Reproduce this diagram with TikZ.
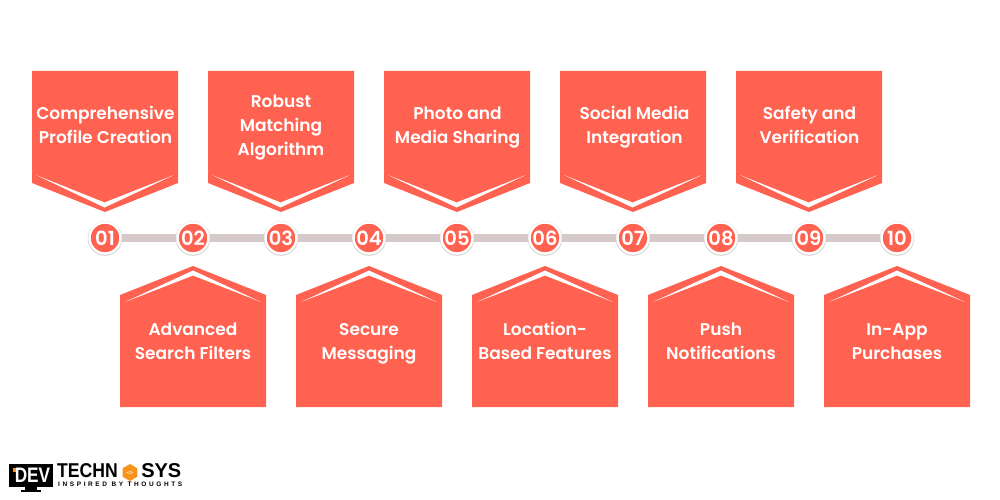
\documentclass[tikz,border=0pt]{standalone}
\usepackage{fontspec}
\setmainfont{Poppins}[UprightFont=* Medium,BoldFont=* SemiBold]
\newfontfamily\logofont{Liberation Sans}[BoldFont=* Bold]
\usetikzlibrary{backgrounds,shapes.geometric}
\definecolor{coral}{HTML}{FF6250}
\definecolor{barc}{HTML}{D5C9C9}
\definecolor{hexc}{HTML}{F7941D}
\tikzset{x=1pt,y=-1pt,
  panel/.style={fill=coral,draw=none},
  chev/.style={fill=white,draw=none},
  label/.style={text=white,align=center,font=\fontsize{17}{24}\selectfont\bfseries,inner sep=0pt},
  num/.style={circle,fill=coral,draw=white,line width=2.4pt,minimum size=31pt,inner sep=0pt,text=white,font=\fontsize{19.5}{19.5}\selectfont\bfseries},
  halo/.style={circle,fill=black!18,draw=none,minimum size=34.5pt,inner sep=0pt},
  bar/.style={draw=barc,line width=8pt}}
\newcommand{\downpanel}[1]{% left x
  \fill[panel] (#1,71) -- ++(146,0) -- ++(0,112) -- ++(-73,29) -- ++(-73,-29) -- cycle;
  \fill[chev] (#1+4,175) -- (#1+72.5,202.5) -- (#1+142,175) -- (#1+72.5,207.5) -- cycle;
}
\newcommand{\uppanel}[1]{%
  \fill[panel] (#1,407) -- ++(146,0) -- ++(0,-112) -- ++(-73,-29) -- ++(-73,29) -- cycle;
  \fill[chev] (#1+5,302) -- (#1+73,270.5) -- (#1+141,302) -- (#1+73,275.5) -- cycle;
}
\begin{document}
\begin{tikzpicture}
\useasboundingbox (0,0) rectangle (1000,500);
\downpanel{32}\downpanel{208}\downpanel{384}\downpanel{560}\downpanel{736}
\uppanel{120}\uppanel{296}\uppanel{472}\uppanel{648}\uppanel{824}
\node[label] (t1) at (105.5,125) {Comprehensive\\Profile Creation};
\node[label] (t3) at (281,128) {Robust\\Matching\\Algorithm};
\node[label] (t5) at (457.5,128) {Photo and\\Media Sharing};
\node[label] (t7) at (634.5,127.5) {Social Media\\Integration};
\node[label] (t9) at (809.5,125) {Safety and\\Verification};
\node[label] (t2) at (193,341) {Advanced\\Search Filters};
\node[label] (t4) at (369,344) {Secure\\Messaging};
\node[label] (t6) at (545,341) {Location-\\Based Features};
\node[label] (t8) at (721,341) {Push\\Notifications};
\node[label] (t10) at (897,342) {In-App\\Purchases};
\foreach \i/\xx in {1/105,2/193,3/281,4/369,5/457,6/545,7/633,8/721,9/809,10/897}{
  \node[halo] at (\xx,238.5) {};
}
\foreach \i/\xx/\n in {1/105/01,2/193/02,3/281/03,4/369/04,5/457/05,6/545/06,7/633/07,8/721/08,9/809/09,10/897/10}{
  \node[num] (c\i) at (\xx,238) {\n};
}
\begin{pgfonlayer}{background}
\fill[white] (0,0) rectangle (1000,500);
\foreach \a/\b in {1/2,2/3,3/4,4/5,5/6,6/7,7/8,8/9,9/10}{
  \draw[bar] (c\a) -- (c\b);
}
\end{pgfonlayer}
% logo
\fill[black] (9,464) rectangle (53,487);
\fill[black] (25,487) rectangle (37,490.5);
\fill[black] (21,490) rectangle (41,492);
\fill[hexc] (13,468) rectangle (16.5,471.5);
\node[text=white,inner sep=0pt,font=\logofont\fontsize{21}{21}\selectfont\bfseries,xscale=0.82,transform shape] (dev) at (32.5,475.5) {DEV};
\node[anchor=west,inner sep=0pt,font=\logofont\fontsize{20}{20}\selectfont\bfseries,xscale=0.88,transform shape] (tech) at (57,471) {TECHN};
\node[regular polygon,regular polygon sides=6,shape border rotate=30,fill=hexc,minimum size=17pt,inner sep=0pt,text=white,font=\logofont\fontsize{4.5}{4.5}\selectfont\bfseries] (hex) at (130,472.5) {</>};
\node[anchor=east,inner sep=0pt,font=\logofont\fontsize{20}{20}\selectfont\bfseries] (sys) at (181.5,471) {SYS};
\node[anchor=west,inner sep=0pt,font=\logofont\fontsize{6.5}{6.5}\selectfont\bfseries] (tag) at (58,484.5) {\addfontfeature{LetterSpace=40}INSPIRED BY THOUGHTS};
\end{tikzpicture}
\end{document}
